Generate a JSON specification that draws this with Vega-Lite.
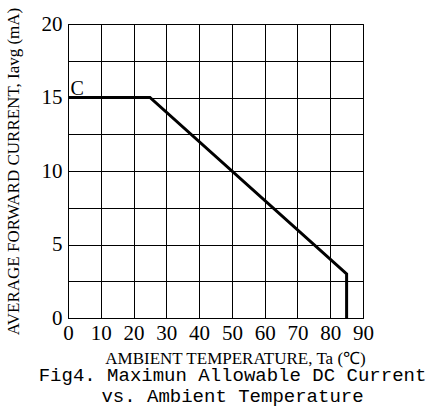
{
  "$schema": "https://vega.github.io/schema/vega-lite/v6.json",
  "autosize": "none",
  "width": 295,
  "height": 294,
  "padding": {"left": 68, "top": 24, "right": 81, "bottom": 92},
  "background": "white",
  "datasets": {
    "curve": [
      {"temp": 0, "current": 15},
      {"temp": 25, "current": 15},
      {"temp": 85, "current": 3},
      {"temp": 85, "current": 0}
    ],
    "label": [
      {"temp": 2.8, "current": 15.2, "text": "C"}
    ]
  },
  "title": {
    "text": ["Fig4. Maximun Allowable DC Current", "vs. Ambient Temperature"],
    "orient": "bottom",
    "anchor": "middle",
    "font": "Liberation Mono",
    "fontSize": 19,
    "fontWeight": "normal",
    "color": "black",
    "lineHeight": 21,
    "offset": 0,
    "dx": 17
  },
  "config": {
    "view": {"stroke": "black", "strokeWidth": 1},
    "axis": {
      "domainColor": "black",
      "gridColor": "black",
      "gridOpacity": 1,
      "gridWidth": 1,
      "tickSize": 0,
      "labelOverlap": false,
      "labelFlush": false,
      "labelFont": "Liberation Serif",
      "labelFontSize": 21,
      "labelColor": "black",
      "titleFont": "Liberation Serif",
      "titleFontWeight": "normal",
      "titleFontSize": 17,
      "titleColor": "black"
    }
  },
  "encoding": {
    "x": {
      "field": "temp", "type": "quantitative",
      "scale": {"domain": [0, 90], "nice": false},
      "axis": {
        "values": [0, 10, 20, 30, 40, 50, 60, 70, 80, 90],
        "title": "AMBIENT TEMPERATURE, Ta (℃)",
        "labelPadding": 4,
        "titlePadding": 7,
        "titleX": 167
      }
    },
    "y": {
      "field": "current", "type": "quantitative",
      "scale": {"domain": [0, 20], "nice": false},
      "axis": {
        "values": [0, 2.5, 5, 7.5, 10, 12.5, 15, 17.5, 20],
        "labelExpr": "datum.value % 5 === 0 ? datum.label : ''",
        "title": "AVERAGE FORWARD CURRENT, Iavg (mA)",
        "labelPadding": 6,
        "titlePadding": 19
      }
    }
  },
  "layer": [
    {
      "data": {"name": "curve"},
      "mark": {"type": "line", "color": "black", "strokeWidth": 3, "strokeJoin": "miter"}
    },
    {
      "data": {"name": "label"},
      "mark": {"type": "text", "font": "Liberation Serif", "fontSize": 20, "baseline": "alphabetic", "color": "black"},
      "encoding": {
        "text": {"field": "text"}
      }
    }
  ]
}
